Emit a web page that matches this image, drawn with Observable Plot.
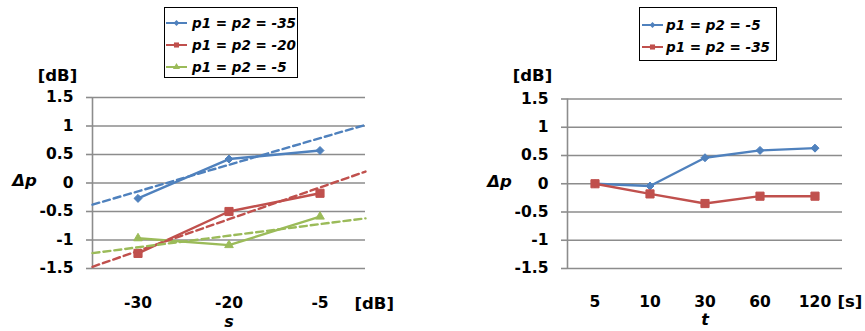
<!DOCTYPE html>
<html><head><meta charset="utf-8">
<script src="https://cdn.jsdelivr.net/npm/d3@7"></script>
<script src="https://cdn.jsdelivr.net/npm/@observablehq/plot@0.6"></script>
<style>
body{margin:0;background:#fff;}
#wrap{position:relative;width:865px;height:331px;font-family:"DejaVu Sans",Verdana,sans-serif;overflow:hidden;}
.chart{position:absolute;top:0;}
.legend{position:absolute;background:#fff;border:1.5px solid #000;box-sizing:border-box;font-weight:bold;font-style:italic;font-size:13.5px;color:#000;}
.legend .row{position:absolute;display:flex;align-items:center;white-space:nowrap;}
.legend svg{display:block;}
</style></head><body><div id="wrap"></div>
<script>
// ---- data ----
const sCats = ["-30", "-20", "-5"];
const sIdx = [1, 2, 3];
const sDomain = [0.5, 3.5];
const leftSeries = ["p1 = p2 = -35", "p1 = p2 = -20", "p1 = p2 = -5"];
const leftM35 = [-0.27, 0.42, 0.57];
const leftM20 = [-1.235, -0.50, -0.18];
const leftM5 = [-0.97, -1.09, -0.59];
const trendStart = [-0.38, -1.47, -1.23];
const trendEnd = [1.02, 0.20, -0.62];

const tCats = ["5", "10", "30", "60", "120"];
const tIdx = [1, 2, 3, 4, 5];
const tDomain = [0.5, 5.5];
const rightSeries = ["p1 = p2 = -5", "p1 = p2 = -35"];
const rightM5 = [0, -0.04, 0.46, 0.59, 0.63];
const rightM35 = [0, -0.18, -0.35, -0.22, -0.22];

const yTicks = [-1.5, -1, -0.5, 0, 0.5, 1, 1.5];

// ---- style ----
const BLUE = "#4F81BD", RED = "#C0504D", GREEN = "#9BBB59";
const GRID = "#8c8c8c";
const FONT = "'DejaVu Sans', Verdana, sans-serif";
const TICKSIZE = 15.5;
const leftColors = [BLUE, RED, GREEN];
const leftSymbols = ["diamond2", "square", "triangle"];
const leftR = [3.6, 4.6, 3.2];
const rightColors = [BLUE, RED];
const rightSymbols = ["diamond2", "square"];
const rightR = [3.6, 4.6];

const leftValues = [leftM35, leftM20, leftM5];
const rightValues = [rightM5, rightM35];

function rows(series, values, idx) {
  return series.flatMap((s, i) => values[i].map((v, j) => ({series: s, x: idx[j], y: v})));
}

function baseMarks(idx, series, values, colors, symbols, radii) {
  const data = rows(series, values, idx);
  const marks = [
    Plot.gridY(yTicks, {stroke: GRID, strokeOpacity: 1, strokeWidth: 1.6}),
    Plot.ruleX([idx[0] - 0.5], {y1: yTicks[0], y2: yTicks[yTicks.length - 1], stroke: GRID, strokeWidth: 1.6}),
    Plot.lineY(data, {x: "x", y: "y", z: "series", stroke: "series", strokeWidth: 2.4}),
  ];
  series.forEach((s, i) => {
    marks.push(Plot.dot(data.filter(d => d.series === s), {x: "x", y: "y", symbol: () => symbols[i], r: radii[i], fill: colors[i], stroke: colors[i], strokeWidth: 1}));
  });
  return {data, marks};
}

function axes(idx, cats, xPad) {
  return [
    Plot.axisX(idx, {tickSize: 0, tickPadding: xPad, tickFormat: i => cats[i - 1], fontSize: TICKSIZE, fontWeight: "bold", color: "black", textStroke: "none", label: null}),
    Plot.axisY(yTicks, {tickSize: 6, tickPadding: 13, tickFormat: d => String(d), fontSize: TICKSIZE, fontWeight: "bold", color: "black", stroke: GRID, strokeWidth: 1.6, textStroke: "none", label: null})
  ];
}

function labels(xTitle, xUnit, unitDx, unitDy, titleDy, unitTopDy) {
  const common = {fontFamily: FONT, fontWeight: "bold", fill: "black", lineAnchor: "middle"};
  return [
    Plot.text(["[dB]"], {frameAnchor: "top-left", dx: -35, dy: unitTopDy, textAnchor: "middle", fontSize: 16.5, ...common}),
    Plot.text(["Δp"], {frameAnchor: "left", dx: -68, dy: -2, textAnchor: "middle", fontSize: 16.5, fontStyle: "italic", ...common}),
    Plot.text([xTitle], {frameAnchor: "bottom", dy: titleDy, textAnchor: "middle", fontSize: 16, fontStyle: "italic", ...common}),
    Plot.text([xUnit], {frameAnchor: "bottom-right", dx: unitDx, dy: unitDy, textAnchor: "start", fontSize: 16.5, ...common})
  ];
}

const styleObj = {fontFamily: FONT, fontSize: TICKSIZE + "px", fontWeight: "bold", color: "#000", background: "transparent", overflow: "visible"};

// ---- left chart ----
const L = baseMarks(sIdx, leftSeries, leftValues, leftColors, leftSymbols, leftR);
const trendData = leftSeries.flatMap((s, i) => [
  {series: s, x: sDomain[0], y: trendStart[i]},
  {series: s, x: sDomain[1], y: trendEnd[i]}
]);
const leftPlot = Plot.plot({
  width: 432, height: 331,
  marginLeft: 92, marginRight: 67, marginTop: 97, marginBottom: 63,
  style: styleObj,
  x: {domain: sDomain},
  y: {domain: [-1.5, 1.5]},
  color: {domain: leftSeries, range: leftColors},
  marks: [
    ...L.marks,
    Plot.lineY(trendData, {x: "x", y: "y", z: "series", stroke: "series", strokeWidth: 2.4, strokeDasharray: "7,4"}),
    ...axes(sIdx, sCats, 28),
    ...labels("s", "[dB]", -11, 35, 53, -22)
  ]
});
leftPlot.classList.add("chart");
leftPlot.style.left = "0px";

// ---- right chart ----
const R = baseMarks(tIdx, rightSeries, rightValues, rightColors, rightSymbols, rightR);
const rightPlot = Plot.plot({
  width: 433, height: 331,
  marginLeft: 135, marginRight: 23, marginTop: 98.5, marginBottom: 63,
  style: styleObj,
  x: {domain: tDomain},
  y: {domain: [-1.5, 1.5]},
  color: {domain: rightSeries, range: rightColors},
  marks: [
    ...R.marks,
    ...axes(tIdx, tCats, 27),
    ...labels("t", "[s]", -5, 33, 51, -23)
  ]
});
rightPlot.classList.add("chart");
rightPlot.style.left = "432px";

const wrap = document.getElementById("wrap");
wrap.appendChild(leftPlot);
wrap.appendChild(rightPlot);

// ---- legends ----
function symbolPath(sym, size) {
  const map = {diamond2: d3.symbolDiamond2, square: d3.symbolSquare, triangle: d3.symbolTriangle};
  return d3.symbol(map[sym], size)();
}
function legend(left, top, width, height, series, colors, symbols, rowTops, sampleLeft, textGap) {
  const box = document.createElement("div");
  box.className = "legend";
  Object.assign(box.style, {left: left + "px", top: top + "px", width: width + "px", height: height + "px"});
  series.forEach((s, i) => {
    const row = document.createElement("div");
    row.className = "row";
    row.style.left = sampleLeft + "px";
    row.style.top = rowTops[i] + "px";
    const sizes = {diamond2: 22, square: 26, triangle: 22};
    row.innerHTML = `<svg width="21" height="12" viewBox="0 0 21 12"><line x1="0" y1="6" x2="21" y2="6" stroke="${colors[i]}" stroke-width="2"/><path transform="translate(10.5,6)" d="${symbolPath(symbols[i], sizes[symbols[i]])}" fill="${colors[i]}"/></svg><span style="margin-left:${textGap}px">${s}</span>`;
    box.appendChild(row);
  });
  wrap.appendChild(box);
}
legend(164, 7, 134, 71, leftSeries, leftColors, leftSymbols, [7, 29, 51], 1, 5);
legend(639, 7, 138, 54, rightSeries, rightColors, rightSymbols, [9, 31], 2, 3);
</script></body></html>
